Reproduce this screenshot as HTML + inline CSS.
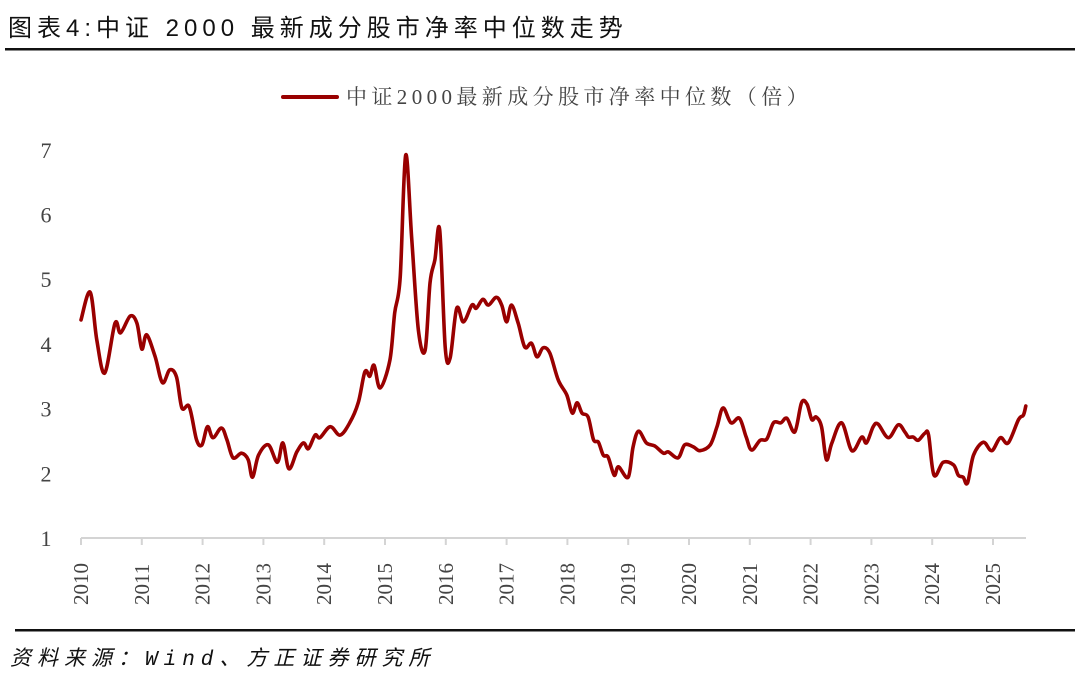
<!DOCTYPE html>
<html><head><meta charset="utf-8"><style>
body{margin:0;background:#fff;}
svg{display:block;}
</style></head><body>
<svg width="1080" height="691" xmlns="http://www.w3.org/2000/svg">
<text x="8" y="36" font-size="24" letter-spacing="5" font-family="Liberation Sans, Noto Sans CJK SC, sans-serif" fill="#111">图表4:中证 2000 最新成分股市净率中位数走势</text>
<rect x="5" y="48" width="1070" height="2.5" fill="#111"/>
<g>
<line x1="283" y1="97" x2="337" y2="97" stroke="#990000" stroke-width="4" stroke-linecap="round"/>
<text x="346" y="104" font-size="21" letter-spacing="4.4" font-family="Liberation Serif, Noto Serif CJK SC, serif" fill="#444">中证2000最新成分股市净率中位数（倍）</text>
</g>
<g id="yaxis"></g>
<g id="xaxis"></g>
<path id="series" fill="none" stroke="#990000" stroke-width="3.6" stroke-linejoin="round" stroke-linecap="round"/>
<rect x="15" y="629" width="1060" height="2.5" fill="#111"/>
<text x="10" y="665" font-size="21" letter-spacing="6" font-style="italic" font-family="Liberation Mono, Noto Sans CJK SC, monospace" fill="#111">资料来源：Wind、方正证券研究所</text>
</svg>
<script>
const yearOffsets=[0,.15,.26,.39,.56,.65,.81,.92,1.00,1.08,1.22,1.34,1.46,1.57,1.66,1.78,1.90,1.99,2.08,2.17,2.31,2.40,2.50,2.64,2.75,2.82,2.92,3.08,3.23,3.32,3.42,3.55,3.66,3.74,3.85,3.93,4.10,4.26,4.42,4.56,4.67,4.75,4.82,4.92,5.08,5.16,5.25,5.34,5.44,5.55,5.66,5.74,5.82,5.90,5.99,6.07,6.18,6.29,6.43,6.50,6.61,6.70,6.83,6.92,7.00,7.08,7.19,7.30,7.41,7.50,7.60,7.71,7.85,7.99,8.08,8.16,8.24,8.34,8.43,8.51,8.59,8.67,8.77,8.84,9.00,9.08,9.17,9.30,9.44,9.58,9.66,9.82,9.93,10.07,10.18,10.35,10.46,10.56,10.69,10.83,10.94,11.03,11.17,11.28,11.39,11.51,11.61,11.74,11.85,11.94,12.02,12.09,12.18,12.26,12.35,12.51,12.68,12.84,12.92,13.03,13.11,13.28,13.44,13.55,13.61,13.69,13.77,13.88,13.94,14.03,14.18,14.35,14.43,14.51,14.58,14.68,14.84,14.98,15.12,15.25,15.42,15.50,15.54];
const pbValues=[4.37,4.80,4.06,3.55,4.32,4.17,4.43,4.32,3.92,4.14,3.80,3.40,3.60,3.49,3.01,3.03,2.52,2.44,2.72,2.55,2.70,2.52,2.24,2.31,2.21,1.94,2.28,2.44,2.17,2.47,2.07,2.33,2.47,2.38,2.59,2.55,2.72,2.59,2.78,3.09,3.57,3.50,3.67,3.32,3.75,4.48,5.03,6.92,5.61,4.21,3.90,4.94,5.30,5.76,3.95,3.78,4.55,4.34,4.60,4.55,4.69,4.60,4.72,4.60,4.34,4.60,4.32,3.95,4.01,3.80,3.94,3.86,3.44,3.21,2.93,3.09,2.93,2.87,2.52,2.48,2.28,2.25,1.97,2.10,1.94,2.41,2.65,2.47,2.42,2.31,2.33,2.24,2.44,2.41,2.35,2.44,2.72,3.01,2.78,2.85,2.56,2.36,2.51,2.53,2.78,2.78,2.85,2.64,3.09,3.07,2.83,2.87,2.72,2.21,2.47,2.78,2.35,2.56,2.47,2.72,2.76,2.55,2.75,2.64,2.56,2.56,2.51,2.62,2.59,1.97,2.17,2.13,1.97,1.94,1.85,2.28,2.48,2.35,2.55,2.47,2.83,2.90,3.04];
const yTicks=[1,2,3,4,5,6,7];
const xTickLabels=["2010","2011","2012","2013","2014","2015","2016","2017","2018","2019","2020","2021","2022","2023","2024","2025"];
const NS="http://www.w3.org/2000/svg";
const X=t=>81+60.8*t;
const Y=v=>538-64.7*(v-1);
const ya=document.getElementById('yaxis'),xa=document.getElementById('xaxis');
yTicks.forEach(v=>{const t=document.createElementNS(NS,'text');


t.setAttribute('x',46);t.setAttribute('y',Y(v)+8);t.setAttribute('text-anchor','middle');
t.setAttribute('font-size','22');t.setAttribute('font-family','Liberation Serif, serif');t.setAttribute('fill','#444');
t.textContent=v;ya.appendChild(t);});
const ax=document.createElementNS(NS,'line');


ax.setAttribute('x1',81);ax.setAttribute('x2',1026);ax.setAttribute('y1',538);ax.setAttribute('y2',538);
ax.setAttribute('stroke','#d4d4d4');ax.setAttribute('stroke-width','2');xa.appendChild(ax);
xTickLabels.forEach((lab,i)=>{const x=X(i);
const tk=document.createElementNS(NS,'line');


tk.setAttribute('x1',x);tk.setAttribute('x2',x);tk.setAttribute('y1',538);tk.setAttribute('y2',545);
tk.setAttribute('stroke','#d4d4d4');tk.setAttribute('stroke-width','2');xa.appendChild(tk);
const t=document.createElementNS(NS,'text');


t.setAttribute('transform',`translate(${x+7},605) rotate(-90)`);
t.setAttribute('font-size','21');t.setAttribute('font-family','Liberation Serif, serif');t.setAttribute('fill','#444');
t.textContent=lab;xa.appendChild(t);});
const pts=yearOffsets.map((t,i)=>[X(t),Y(pbValues[i])]);
let d=`M${pts[0][0]},${pts[0][1]}`;
for(let i=0;i<pts.length-1;i++){const p0=pts[Math.max(0,i-1)],p1=pts[i],p2=pts[i+1],p3=pts[Math.min(pts.length-1,i+2)];
const c1=[p1[0]+(p2[0]-p0[0])/6,p1[1]+(p2[1]-p0[1])/6],c2=[p2[0]-(p3[0]-p1[0])/6,p2[1]-(p3[1]-p1[1])/6];
d+=` C${c1[0].toFixed(1)},${c1[1].toFixed(1)} ${c2[0].toFixed(1)},${c2[1].toFixed(1)} ${p2[0].toFixed(1)},${p2[1].toFixed(1)}`;}
document.getElementById('series').setAttribute('d',d);
</script>
</body></html>
